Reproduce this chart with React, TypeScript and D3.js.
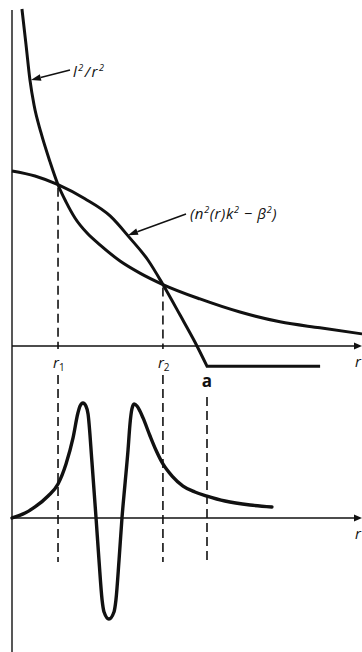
import React from 'react';
import * as d3 from 'd3';

const WIDTH = 362;
const HEIGHT = 652;

// Radial position r, in units of the core radius a.
// Centrifugal barrier term l²/r² (upper panel).
const barrierR = [0.051, 0.072, 0.092, 0.113, 0.149, 0.195, 0.236, 0.277, 0.323, 0.385, 0.451, 0.554, 0.656, 0.774, 0.964, 1.169, 1.374, 1.579, 1.795];
const barrierV = [1.003, 0.896, 0.792, 0.717, 0.634, 0.548, 0.48, 0.429, 0.381, 0.336, 0.301, 0.253, 0.217, 0.183, 0.14, 0.101, 0.072, 0.054, 0.036];

// Index term n²(r)k² − β² inside the core (graded profile) ...
const indexR = [0, 0.118, 0.236, 0.374, 0.503, 0.605, 0.697, 0.774, 0.862, 0.938, 1.0];
const indexV = [0.521, 0.506, 0.48, 0.438, 0.387, 0.321, 0.256, 0.183, 0.092, 0.012, -0.06];
// ... and its constant value in the cladding.
const claddingR = [1.0, 1.58];
const claddingV = [-0.06, -0.06];

// Radial field of the mode (lower panel).
const fieldR = [0, 0.067, 0.118, 0.185, 0.236, 0.277, 0.313, 0.338, 0.349, 0.364, 0.379, 0.39, 0.41, 0.431, 0.446, 0.462, 0.472, 0.497, 0.523, 0.533, 0.549, 0.564, 0.579, 0.595, 0.605, 0.615, 0.626, 0.641, 0.656, 0.672, 0.708, 0.738, 0.774, 0.821, 0.877, 0.938, 1.0, 1.092, 1.221, 1.333];
const fieldV = [0, 0.043, 0.096, 0.191, 0.296, 0.47, 0.696, 0.913, 0.974, 1.0, 0.974, 0.904, 0.487, 0, -0.365, -0.713, -0.817, -0.878, -0.817, -0.713, -0.365, 0, 0.287, 0.591, 0.817, 0.948, 0.991, 0.974, 0.93, 0.87, 0.713, 0.591, 0.47, 0.365, 0.278, 0.226, 0.191, 0.148, 0.113, 0.096];

// Turning points r1, r2 and the core boundary a.
const markerR = [0.236, 0.774, 1.0];
const markerSymbols = ['r', 'r', 'a'];
const markerSubscripts = ['1', '2', ''];

const INK = '#111';
const FONT = '"Open Sans", "DejaVu Sans", sans-serif';

type Pt = [number, number];
const zip = (rs: number[], vs: number[]): Pt[] => rs.map((r, i) => [r, vs[i]]);

function Arrow({ x1, y1, x2, y2 }: { x1: number; y1: number; x2: number; y2: number }) {
  const ang = Math.atan2(y2 - y1, x2 - x1);
  const len = 10;
  const half = 3.3;
  const bx = x2 - len * Math.cos(ang);
  const by = y2 - len * Math.sin(ang);
  const px = -Math.sin(ang) * half;
  const py = Math.cos(ang) * half;
  return (
    <g>
      <line x1={x1} y1={y1} x2={bx} y2={by} stroke={INK} strokeWidth={1.5} />
      <polygon points={`${x2},${y2} ${bx + px},${by + py} ${bx - px},${by - py}`} fill={INK} />
    </g>
  );
}

export default function App() {
  const x = d3.scaleLinear().domain([0, 1.8]).range([12, 363]);
  const yTop = d3.scaleLinear().domain([0, 1]).range([346, 10]);
  const yBot = d3.scaleLinear().domain([-1, 1]).range([633, 403]);

  const smoothTop = d3.line<Pt>().x(d => x(d[0])).y(d => yTop(d[1])).curve(d3.curveMonotoneX);
  const straightTop = d3.line<Pt>().x(d => x(d[0])).y(d => yTop(d[1]));
  const smoothBot = d3.line<Pt>().x(d => x(d[0])).y(d => yBot(d[1])).curve(d3.curveMonotoneX);

  const barrierPath = smoothTop(zip(barrierR, barrierV)) || '';
  const indexPath =
    (smoothTop(zip(indexR, indexV)) || '') +
    (straightTop(zip(claddingR, claddingV)) || '').replace(/^M/, 'L');
  const fieldPath = smoothBot(zip(fieldR, fieldV)) || '';

  const axisTop = yTop(0);
  const axisBot = yBot(0);
  const x0 = x(0);
  const xEnd = 362;
  const dashBottom = 562;
  const labelY = axisTop + 17;

  // height of the crossing of both upper curves at each turning point
  const crossV = markerR.map(r => {
    const i = indexR.indexOf(r);
    return i >= 0 ? indexV[i] : 0;
  });

  const barrierTip: Pt = [x(barrierR[2]), yTop(barrierV[2])];
  const indexTip: Pt = [x(indexR[5]) - 2, yTop(indexV[5]) - 3];

  const axisHead = (y: number) => `${xEnd},${y} ${xEnd - 8},${y - 3.5} ${xEnd - 8},${y + 3.5}`;

  return (
    <div style={{ position: 'absolute', left: 0, top: 0 }}>
      <svg width={WIDTH} height={HEIGHT} viewBox={`0 0 ${WIDTH} ${HEIGHT}`} style={{ display: 'block', background: '#fff' }}>
        {/* axes */}
        <line x1={x0} y1={10} x2={x0} y2={HEIGHT} stroke={INK} strokeWidth={1.4} />
        <line x1={x0} y1={axisTop} x2={xEnd - 4} y2={axisTop} stroke={INK} strokeWidth={1.4} />
        <polygon points={axisHead(axisTop)} fill={INK} />
        <line x1={x0} y1={axisBot} x2={xEnd - 4} y2={axisBot} stroke={INK} strokeWidth={1.4} />
        <polygon points={axisHead(axisBot)} fill={INK} />

        {/* dashed guides at r1, r2 and a */}
        {markerR.map((r, i) => {
          const xi = x(r);
          const isCore = markerSymbols[i] === 'a';
          return (
            <g key={`guide-${i}`} stroke={INK} strokeWidth={1.6} strokeDasharray="9,5">
              {!isCore && <line x1={xi} y1={yTop(crossV[i]) + 3} x2={xi} y2={axisTop + 3} />}
              <line x1={xi} y1={isCore ? labelY + 34 : labelY + 12} x2={xi} y2={dashBottom} />
            </g>
          );
        })}

        {/* curves */}
        <path d={barrierPath} fill="none" stroke={INK} strokeWidth={3} strokeLinejoin="round" />
        <path d={indexPath} fill="none" stroke={INK} strokeWidth={3} strokeLinejoin="miter" />
        <path d={fieldPath} fill="none" stroke={INK} strokeWidth={3.4} strokeLinejoin="round" strokeLinecap="round" />

        {/* annotations */}
        <Arrow x1={70} y1={70} x2={barrierTip[0] + 1} y2={barrierTip[1]} />
        <text x={73} y={77} fontFamily={FONT} fontStyle="italic" fontSize={15} fill={INK} letterSpacing={1.5}>
          l<tspan dy={-6} fontSize={9}>2</tspan>
          <tspan dy={6}>/r</tspan>
          <tspan dy={-6} fontSize={9}>2</tspan>
        </text>

        <Arrow x1={186} y1={214} x2={indexTip[0]} y2={indexTip[1]} />
        <text x={190} y={219} fontFamily={FONT} fontStyle="italic" fontSize={15} fill={INK} letterSpacing={0.6}>
          (n<tspan dy={-6} fontSize={9}>2</tspan>
          <tspan dy={6}>(r)k</tspan>
          <tspan dy={-6} fontSize={9}>2</tspan>
          <tspan dy={6}> − β</tspan>
          <tspan dy={-6} fontSize={9}>2</tspan>
          <tspan dy={6}>)</tspan>
        </text>

        {/* marker labels */}
        {markerR.map((r, i) => {
          const isCore = markerSymbols[i] === 'a';
          return isCore ? (
            <text key={`lab-${i}`} x={x(r)} y={axisTop + 41} textAnchor="middle" fontFamily={FONT} fontWeight={700} fontSize={17} fill={INK}>
              {markerSymbols[i]}
            </text>
          ) : (
            <text key={`lab-${i}`} x={x(r) - 5} y={labelY + 5} fontFamily={FONT} fontStyle="italic" fontSize={15} fill={INK}>
              {markerSymbols[i]}
              <tspan dy={3} fontSize={10} fontStyle="normal">{markerSubscripts[i]}</tspan>
            </text>
          );
        })}

        <text x={355} y={axisTop + 21} fontFamily={FONT} fontStyle="italic" fontSize={15} fill={INK}>r</text>
        <text x={355} y={axisBot + 21} fontFamily={FONT} fontStyle="italic" fontSize={15} fill={INK}>r</text>
      </svg>
    </div>
  );
}
